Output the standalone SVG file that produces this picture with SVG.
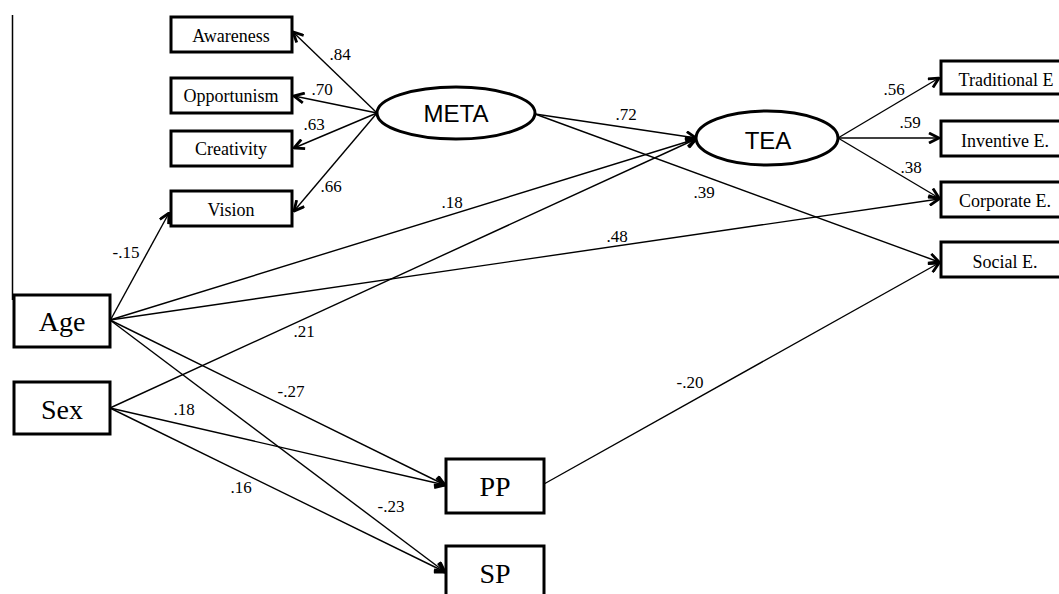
<svg xmlns="http://www.w3.org/2000/svg" width="1059" height="594" viewBox="0 0 1059 594">
<defs>
<marker id="ah" viewBox="0 0 12 12" refX="11" refY="6" markerWidth="12" markerHeight="12" markerUnits="userSpaceOnUse" orient="auto">
<path d="M1,1 L11,6 L1,11" fill="none" stroke="#000" stroke-width="2.8" stroke-linejoin="miter"/>
</marker>
<style>
.box{fill:#fff;stroke:#000;stroke-width:3}
.ell{fill:#fff;stroke:#000;stroke-width:3}
.c{fill:none;stroke:#000;stroke-width:1.4;marker-end:url(#ah)}
.s{font-family:"Liberation Serif",serif;font-size:18px;text-anchor:middle;fill:#000}
.b{font-family:"Liberation Serif",serif;font-size:28px;text-anchor:middle;fill:#000}
.l{font-family:"Liberation Serif",serif;font-size:17px;text-anchor:middle;fill:#000}
.e{font-family:"Liberation Sans",Arial,sans-serif;font-size:24px;text-anchor:middle;fill:#000}
</style>
</defs>
<rect width="1059" height="594" fill="#fff"/>
<line x1="12.5" y1="15" x2="12.5" y2="300" stroke="#000" stroke-width="1.5"/>
<g id="connectors">
<line class="c" x1="377" y1="113" x2="293" y2="32"/>
<line class="c" x1="377" y1="113" x2="294" y2="96"/>
<line class="c" x1="377" y1="113" x2="294" y2="148"/>
<line class="c" x1="377" y1="113" x2="294" y2="211"/>
<line class="c" x1="111" y1="319" x2="169" y2="213"/>
<line class="c" x1="535" y1="114" x2="696" y2="138"/>
<line class="c" x1="535" y1="114" x2="939" y2="262"/>
<line class="c" x1="110" y1="320" x2="696" y2="139"/>
<line class="c" x1="110" y1="408" x2="696" y2="139"/>
<line class="c" x1="110" y1="320" x2="939" y2="199"/>
<line class="c" x1="110" y1="320" x2="445" y2="485"/>
<line class="c" x1="110" y1="320" x2="445" y2="572"/>
<line class="c" x1="110" y1="408" x2="445" y2="485"/>
<line class="c" x1="110" y1="408" x2="445" y2="572"/>
<line class="c" x1="544" y1="484" x2="939" y2="263"/>
<line class="c" x1="838" y1="138" x2="939" y2="78"/>
<line class="c" x1="838" y1="138" x2="939" y2="138"/>
<line class="c" x1="838" y1="138" x2="939" y2="198"/>
</g>
<g id="labels">
<text class="l" x="340" y="60">.84</text>
<text class="l" x="322" y="95">.70</text>
<text class="l" x="314" y="130">.63</text>
<text class="l" x="331" y="192">.66</text>
<text class="l" x="626" y="120">.72</text>
<text class="l" x="704" y="198">.39</text>
<text class="l" x="452" y="208">.18</text>
<text class="l" x="617" y="242">.48</text>
<text class="l" x="304" y="337">.21</text>
<text class="l" x="126" y="258">-.15</text>
<text class="l" x="291" y="397">-.27</text>
<text class="l" x="184" y="415">.18</text>
<text class="l" x="241" y="493">.16</text>
<text class="l" x="391" y="512">-.23</text>
<text class="l" x="690" y="388">-.20</text>
<text class="l" x="894" y="95">.56</text>
<text class="l" x="910" y="128">.59</text>
<text class="l" x="911" y="173">.38</text>
</g>
<g id="awareness"><rect class="box" x="171" y="17" width="121" height="35"/><text class="s" x="231" y="42">Awareness</text></g>
<g id="opportunism"><rect class="box" x="171" y="78" width="121" height="35"/><text class="s" x="231" y="102">Opportunism</text></g>
<g id="creativity"><rect class="box" x="171" y="131" width="121" height="35"/><text class="s" x="231" y="155">Creativity</text></g>
<g id="vision"><rect class="box" x="171" y="191" width="121" height="35"/><text class="s" x="231" y="216">Vision</text></g>
<g id="meta"><ellipse class="ell" cx="456" cy="113" rx="79" ry="26"/><text class="e" x="456" y="122">META</text></g>
<g id="tea"><ellipse class="ell" cx="767" cy="138" rx="71" ry="27"/><text class="e" x="768" y="149">TEA</text></g>
<g id="traditional"><rect class="box" x="941" y="61" width="125" height="33"/><text class="s" x="1006" y="86">Traditional E</text></g>
<g id="inventive"><rect class="box" x="941" y="121" width="125" height="35"/><text class="s" x="1005" y="147">Inventive E.</text></g>
<g id="corporate"><rect class="box" x="941" y="182" width="125" height="35"/><text class="s" x="1005" y="207">Corporate E.</text></g>
<g id="social"><rect class="box" x="941" y="242" width="125" height="35"/><text class="s" x="1005" y="268">Social E.</text></g>
<g id="age"><rect class="box" x="14" y="295" width="96" height="52"/><text class="b" x="62" y="331">Age</text></g>
<g id="sex"><rect class="box" x="14" y="382" width="96" height="52"/><text class="b" x="62" y="419">Sex</text></g>
<g id="pp"><rect class="box" x="446" y="459" width="98" height="54"/><text class="b" x="495" y="496">PP</text></g>
<g id="sp"><rect class="box" x="446" y="546" width="98" height="60"/><text class="b" x="495" y="583">SP</text></g>
</svg>
